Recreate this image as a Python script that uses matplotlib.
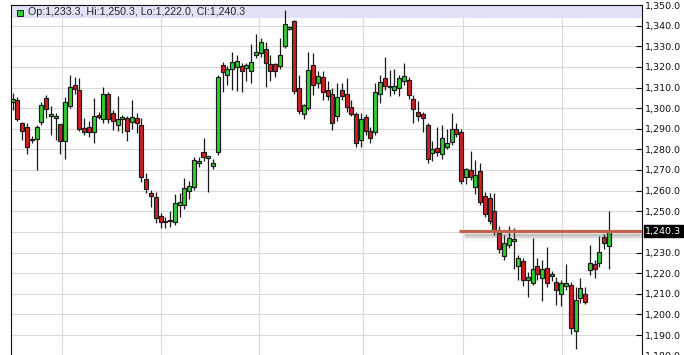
import matplotlib
matplotlib.use("Agg")
import matplotlib.pyplot as plt
import matplotlib.transforms as mtransforms
from matplotlib.patches import Rectangle
from matplotlib.ticker import FuncFormatter, MultipleLocator, FixedLocator

# daily OHLC (oldest first)
opens = [1303.0, 1303.9, 1292.6, 1290.7, 1284.5, 1284.9, 1293.4, 1304.8, 1296.3, 1295.1,
         1292.2, 1283.9, 1301.2, 1311.2, 1308.8, 1290.5, 1291.0, 1288.3, 1296.7, 1294.7,
         1306.7, 1297.5, 1291.8, 1294.6, 1295.0, 1293.1, 1295.0, 1291.8, 1265.4, 1258.7,
         1256.8, 1247.7, 1245.5, 1245.2, 1244.7, 1253.0, 1253.0, 1260.0, 1261.9, 1273.2,
         1278.9, 1276.0, 1272.1, 1278.6, 1321.0, 1316.0, 1319.0, 1319.8, 1320.4, 1319.3,
         1318.0, 1325.8, 1326.9, 1328.7, 1321.4, 1321.4, 1320.4, 1330.1, 1338.5, 1342.2,
         1310.0, 1297.0, 1300.0, 1320.9, 1312.0, 1315.0, 1309.0, 1306.7, 1296.2, 1309.0,
         1306.7, 1300.4, 1297.1, 1284.5, 1295.6, 1289.0, 1288.6, 1306.7, 1314.5, 1310.1,
         1309.0, 1309.6, 1313.3, 1313.5, 1304.3, 1298.3, 1297.1, 1291.8, 1278.1, 1280.9,
         1277.8, 1281.3, 1283.7, 1290.0, 1288.6, 1266.8, 1270.0, 1261.6, 1269.5, 1257.4,
         1256.3, 1250.0, 1239.6, 1228.4, 1233.6, 1235.7, 1223.5, 1225.9, 1216.7, 1215.0,
         1223.5, 1217.5, 1222.3, 1218.8, 1215.8, 1209.9, 1213.7, 1214.2, 1192.1, 1207.8,
         1209.7, 1221.5, 1224.3, 1224.8, 1237.4, 1233.3]
highs = [1307.5, 1305.5, 1293.4, 1293.0, 1286.5, 1292.0, 1303.0, 1306.4, 1301.0, 1297.8,
         1292.5, 1305.3, 1316.1, 1315.0, 1314.6, 1295.0, 1294.0, 1304.8, 1298.0, 1310.1,
         1308.0, 1299.0, 1306.0, 1296.7, 1296.0, 1304.0, 1297.5, 1295.0, 1268.4, 1260.3,
         1259.5, 1249.0, 1247.0, 1250.0, 1258.4, 1259.0, 1266.0, 1264.8, 1276.5, 1276.5,
         1285.4, 1277.0, 1275.5, 1316.0, 1322.5, 1320.6, 1327.0, 1325.8, 1322.0, 1322.0,
         1330.9, 1335.8, 1333.8, 1332.2, 1325.8, 1322.0, 1334.0, 1347.6, 1340.0, 1342.5,
         1316.0, 1302.0, 1327.4, 1326.5, 1318.0, 1318.0, 1313.0, 1310.0, 1312.0, 1312.0,
         1314.5, 1304.0, 1298.3, 1297.8, 1297.0, 1291.0, 1312.0, 1316.0, 1324.6, 1318.5,
         1319.0, 1316.0, 1321.7, 1315.0, 1306.4, 1303.6, 1298.0, 1292.6, 1284.0, 1291.0,
         1291.8, 1290.0, 1297.8, 1293.0, 1289.8, 1271.0, 1279.4, 1274.8, 1273.6, 1259.5,
         1258.7, 1258.7, 1243.0, 1238.4, 1243.0, 1241.8, 1228.8, 1227.2, 1220.7, 1236.9,
         1227.2, 1226.4, 1232.8, 1221.0, 1218.3, 1216.7, 1224.4, 1215.8, 1213.4, 1217.5,
         1213.4, 1233.6, 1226.4, 1238.0, 1239.0, 1250.3]
lows = [1299.0, 1294.0, 1284.5, 1277.6, 1283.0, 1270.0, 1292.0, 1295.0, 1287.0, 1284.5,
        1278.0, 1275.2, 1300.0, 1307.0, 1289.0, 1287.0, 1286.0, 1283.3, 1294.5, 1293.0,
        1293.0, 1289.4, 1289.0, 1287.8, 1284.2, 1290.0, 1288.0, 1264.3, 1258.7, 1252.2,
        1244.2, 1241.7, 1242.0, 1242.5, 1243.5, 1247.4, 1251.0, 1256.0, 1260.5, 1271.5,
        1274.5, 1259.5, 1270.5, 1277.5, 1307.8, 1311.2, 1308.8, 1308.3, 1307.6, 1313.0,
        1312.0, 1324.5, 1325.0, 1310.4, 1313.1, 1315.0, 1319.0, 1329.0, 1338.0, 1307.0,
        1297.0, 1294.7, 1299.0, 1306.4, 1310.0, 1304.0, 1304.0, 1289.4, 1294.0, 1304.0,
        1298.3, 1296.0, 1281.3, 1281.0, 1287.0, 1283.0, 1287.0, 1302.6, 1309.0, 1305.9,
        1307.0, 1306.0, 1311.0, 1304.5, 1292.9, 1294.0, 1288.6, 1273.2, 1274.4, 1277.0,
        1275.3, 1280.0, 1282.0, 1286.0, 1263.2, 1263.0, 1265.0, 1258.2, 1253.0, 1247.0,
        1244.0, 1238.5, 1230.0, 1226.2, 1232.0, 1222.0, 1216.7, 1213.8, 1208.6, 1214.3,
        1216.7, 1206.6, 1213.5, 1216.0, 1204.5, 1204.0, 1212.0, 1190.5, 1183.2, 1205.5,
        1205.0, 1219.0, 1217.5, 1223.0, 1231.5, 1222.0]
closes = [1304.4, 1294.6, 1289.1, 1281.3, 1285.0, 1291.0, 1301.4, 1299.4, 1296.8, 1296.2,
          1283.9, 1303.1, 1310.1, 1309.1, 1289.7, 1288.4, 1288.4, 1296.3, 1295.6, 1306.8,
          1294.6, 1293.9, 1294.6, 1295.5, 1288.9, 1295.6, 1292.6, 1266.5, 1260.6, 1257.5,
          1246.6, 1244.6, 1244.7, 1245.6, 1253.8, 1254.6, 1261.1, 1262.2, 1274.8, 1274.5,
          1276.2, 1276.4, 1273.2, 1314.9, 1317.5, 1318.9, 1322.2, 1322.8, 1318.0, 1320.9,
          1322.5, 1327.0, 1331.9, 1322.0, 1318.0, 1318.0, 1325.8, 1340.8, 1338.9, 1308.3,
          1298.6, 1301.3, 1318.5, 1311.2, 1315.4, 1308.0, 1306.0, 1292.6, 1305.2, 1306.0,
          1300.4, 1297.1, 1283.0, 1294.6, 1289.0, 1285.4, 1308.0, 1312.5, 1310.7, 1310.7,
          1310.7, 1314.5, 1315.6, 1306.2, 1299.4, 1296.3, 1295.0, 1275.2, 1280.2, 1278.9,
          1285.4, 1283.3, 1290.0, 1287.5, 1264.8, 1270.3, 1266.8, 1267.6, 1254.3, 1248.6,
          1245.4, 1240.0, 1231.5, 1234.6, 1236.8, 1235.7, 1227.2, 1216.7, 1218.3, 1222.0,
          1219.6, 1221.9, 1215.3, 1218.8, 1211.8, 1215.3, 1215.3, 1193.2, 1207.0, 1212.6,
          1206.1, 1225.0, 1221.8, 1230.0, 1234.5, 1240.3]

month_lines = [10.27, 31.0, 51.7, 73.5, 94.3, 115.1]   # vertical grid, in bar units
level = 1240.3
level_start = 93.6
legend_text = "Op:1,233.3, Hi:1,250.3, Lo:1,222.0, Cl:1,240.3"

GREEN = "#33cc33"
RED = "#cc2020"
EDGE = "#1a1a1a"

W, H = 684, 355
fig = plt.figure(figsize=(W / 100, H / 100), dpi=100)

# layout in pixels: plot runs off the bottom of the picture
left_px, right_px, top_px, bottom_px = 11.3, 641.7, 5.0, 365.0
bar0_px, pitch_px, px_per_unit = 12.7, 4.77, 2.0625
ax = fig.add_axes([left_px / W, 1 - bottom_px / H,
                   (right_px - left_px) / W, (bottom_px - top_px) / H])

ax.set_xlim((left_px - bar0_px) / pitch_px, (right_px - bar0_px) / pitch_px)
ax.set_ylim(1350 - (bottom_px - top_px) / px_per_unit, 1350)

xs = list(range(len(opens)))
body_lo = [min(o, c) for o, c in zip(opens, closes)]
body_h = [max(abs(c - o), 0.7) for o, c in zip(opens, closes)]
body_col = [GREEN if c >= o else RED for o, c in zip(opens, closes)]

ax.vlines(xs, lows, highs, color=EDGE, lw=0.9, zorder=3)
ax.bar(xs, body_h, bottom=body_lo, width=0.84, color=body_col,
       edgecolor=EDGE, linewidth=0.85, zorder=4)

# legend strip across the top
ax.axhspan(1350 - 13.3 / px_per_unit, 1350, color="#e2e2f7", lw=0, zorder=1)

# horizontal level with its drop shadow
xr = ax.get_xlim()[1]
for off, a in [(1.5, 0.32), (2.0, 0.26), (2.5, 0.20), (3.0, 0.14), (3.5, 0.09), (4.0, 0.05)]:
    ax.hlines(level - off, level_start + 1.0, xr, color="#555555", alpha=a, lw=1.0, zorder=5)
ax.hlines(level, level_start, xr, color="#bf634d", lw=2.3, zorder=6)

ax.yaxis.tick_right()
ax.yaxis.set_major_locator(MultipleLocator(10))
ax.yaxis.set_major_formatter(FuncFormatter(
    lambda v, p: "" if abs(v - 1240) < 0.01 else f"{v:,.1f}"))
ax.tick_params(axis="y", direction="in", length=4, width=0.8, pad=2,
               labelsize=6.8, colors="#111111")
ax.xaxis.set_major_locator(FixedLocator(month_lines))
ax.tick_params(axis="x", length=0, labelbottom=False)
ax.grid(True, color="#d9d9d9", lw=0.8)
ax.set_axisbelow(True)
for side in ["left", "top", "right"]:
    ax.spines[side].set_color("#111111")
    ax.spines[side].set_linewidth(0.8)

# price tag for the level
trans = mtransforms.blended_transform_factory(ax.transAxes, ax.transData)
ax.text(1 + 3.5 / (right_px - left_px), level, "1,240.3", transform=trans,
        ha="left", va="center", fontsize=6.8, color="white", clip_on=False, zorder=10,
        bbox=dict(boxstyle="square,pad=0.15", facecolor="black", edgecolor="black"))

# legend swatch and text
fig.add_artist(Rectangle((16.7 / W, 1 - 16.3 / H), 6.6 / W, 6.3 / H,
                         facecolor=GREEN, edgecolor=EDGE, lw=0.7))
fig.text(28.5 / W, 1 - 12.0 / H, legend_text, fontsize=7.7,
         family="Liberation Sans", va="center", ha="left", color="#222222")

fig.savefig("out.png", dpi=100)
